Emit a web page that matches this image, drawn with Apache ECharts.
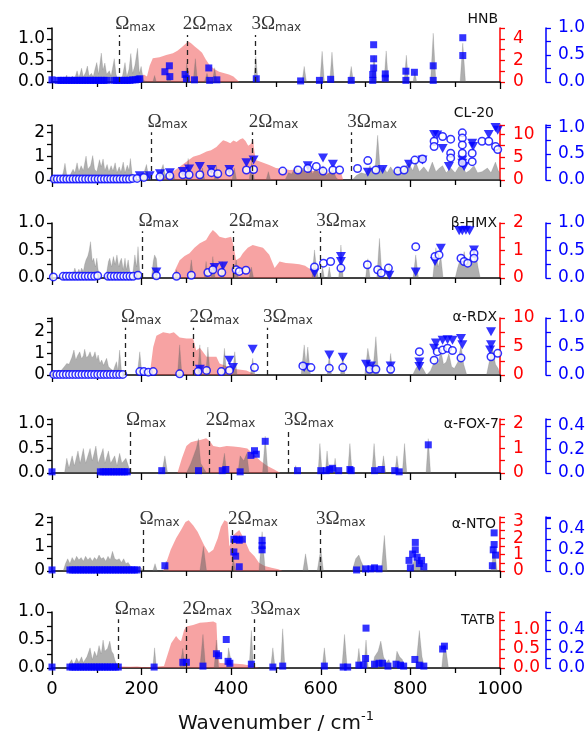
<!DOCTYPE html>
<html><head><meta charset="utf-8">
<script src="https://cdn.jsdelivr.net/npm/echarts@6/dist/echarts.min.js"></script>
<style>html,body{margin:0;padding:0;background:#fff}#c{width:588px;height:738px}</style>
</head><body><div id="c"></div>
<script>
// ---------------- DATA ----------------
const panelNames = ['HNB','CL-20','β-HMX','α-RDX','α-FOX-7','α-NTO','TATB'];
const omegaLines = [[150,301,454],[222,448,668],[202,404,599],[163,316,480],[174,352,527],[204,402,598],[149,300,452]];
const omegaText = ['Ω','2Ω','3Ω'];
const xTickStep = 200;

const hnbGray = [[0,0],[26,0],[30,0.1],[33,0.16],[36,0.04],[42,0.08],[46,0.14],[50,0.06],[56,0.26],[60,0.1],[63,0.2],[66,0.32],[70,0.12],[75,0.22],[79,0.37],[83,0.14],[88,0.2],[92,0.12],[96,0.3],[100,0.45],[104,0.18],[110,0.67],[114,0.28],[118,0.44],[122,0.18],[128,0.26],[132,0.14],[139,0.54],[143,0.18],[147,0.04],[152,0],[157,0.12],[163,0.45],[167,0.12],[172,0.3],[176,0.66],[180,0.2],[185,0.38],[191,0.78],[195,0.2],[199,0.36],[204,0.04],[212,0],[225,0],[229,0.15],[233,0],[256,0],[261,0.22],[266,0],[296,0],[301,0.44],[306,0],[315,0],[320,0.54],[325,0],[340,0],[346,0.2],[352,0],[358,0],[363,0.33],[368,0],[450,0],[455,0.59],[460,0],[558,0],[563,0.36],[568,0],[598,0],[603,0.71],[608,0],[620,0],[625,0.69],[630,0],[663,0],[668,0.36],[673,0],[713,0],[719,0.62],[725,0],[741,0],[746,0.72],[751,0],[786,0],[791,0.62],[796,0],[806,0],[810,0.25],[814,0],[845,0],[851,1.13],[857,0],[911,0],[917,0.9],[923,0],[1000,0]];
const hnbRed = [[188,0],[195,0.3],[205,0.7],[212,0.5],[218,1.5],[225,2.2],[240,2.3],[255,2.5],[270,2.67],[280,2.9],[289,3.2],[297,3.5],[304,3.75],[310,3.6],[318,3.3],[327,3.0],[335,2.7],[343,2.1],[352,1.55],[362,1.2],[373,0.96],[385,0.8],[395,0.7],[405,0.5],[418,0]];
const hnbSq = [[0,0.04],[14,0.03],[20,0.03],[26,0.03],[32,0.03],[38,0.03],[44,0.03],[50,0.03],[56,0.03],[62,0.03],[68,0.03],[74,0.03],[80,0.03],[86,0.03],[92,0.03],[98,0.03],[104,0.03],[110,0.03],[116,0.03],[122,0.03],[138,0.03],[144,0.03],[150,0.03],[156,0.03],[162,0.03],[168,0.03],[174,0.03],[180,0.04],[186,0.04],[192,0.05],[196,0.06],[252,0.19],[262,0.3],[263,0.1],[297,0.14],[300,0.06],[318,0.04],[350,0.26],[352,0.03],[368,0.04],[456,0.06],[555,0.02],[597,0.03],[622,0.05],[668,0.03],[718,0.69],[718,0.43],[718,0.26],[716,0.14],[716,0.03],[744,0.15],[744,0.07],[790,0.2],[790,0.03],[809,0.18],[851,0.3],[851,0.03],[917,0.82],[917,0.49]];

const cl20Gray = [[0,0],[15,0],[20,0.05],[25,0.3],[29,0.7],[33,0.2],[38,0.1],[43,0.3],[47,0.45],[51,0.3],[56,0.72],[60,0.35],[65,0.6],[70,0.4],[76,1.0],[80,0.45],[86,0.6],[91,1.02],[95,0.45],[100,0.35],[106,0.85],[110,0.55],[114,0.88],[118,0.4],[123,0.65],[127,0.35],[132,0.6],[136,0.38],[141,0.72],[145,0.3],[150,0.55],[154,0.32],[159,0.75],[163,0.3],[168,0.62],[172,0.4],[175,0.9],[179,0.25],[184,0.05],[192,0],[200,0.05],[206,0.35],[211,0.65],[215,0.2],[222,0],[236,0],[242,0.35],[248,0.65],[252,0.3],[258,0],[265,0],[270,0.3],[275,0],[298,0],[304,0.9],[309,0],[330,0],[336,0.5],[341,0],[362,0],[367,0.6],[372,0],[402,0],[407,0.5],[412,0],[440,0],[446,0.75],[452,0],[478,0],[483,0.35],[488,0],[520,0],[528,0.3],[535,0.25],[545,0.6],[552,0.3],[560,0.5],[567,0.25],[575,0.55],[582,0.25],[590,0.55],[597,0.2],[605,0.6],[612,0.2],[620,0.3],[627,0.45],[634,0.1],[640,0],[670,0],[680,0.2],[690,0.3],[700,0.25],[710,0.6],[716,0.3],[721,0.4],[727,1.87],[733,0.35],[740,0.55],[748,0.3],[756,0.55],[764,0.3],[772,0.55],[780,0.3],[790,0.6],[797,0.7],[805,0.4],[812,0.75],[820,0.35],[830,0.55],[840,0.3],[849,0.75],[857,0.35],[865,0.5],[872,0.6],[880,0.3],[890,0.5],[900,0.3],[908,0.55],[916,0.6],[924,0.3],[932,0.4],[942,0.6],[950,0.3],[960,0.35],[972,0.5],[980,0.3],[990,0.75],[996,0.4],[1000,0.3]];
const cl20Red = [[240,0],[250,0.5],[265,1.5],[285,2.9],[300,4.0],[315,5.1],[330,5.5],[345,6.2],[355,6.5],[367,7.2],[375,8.0],[382,8.7],[390,8.4],[398,8.0],[405,8.6],[412,8.3],[420,8.9],[426,9.1],[432,8.5],[438,7.5],[443,7.8],[449,8.7],[452,6.0],[456,4.3],[470,3.8],[485,3.3],[500,2.6],[520,2.4],[530,2.2],[552,2.3],[570,1.9],[590,2.0],[604,1.7],[620,1.6],[635,1.5],[646,1.4],[650,0]];
const cl20Tri = [[196,0.08],[218,0.08],[241,0.12],[263,0.14],[292,0.16],[306,0.21],[330,0.26],[356,0.2],[396,0.2],[434,0.33],[450,0.38],[571,0.27],[605,0.42],[627,0.3],[705,0.15],[738,0.2],[797,0.3],[827,0.38],[853,0.87],[860,0.86],[872,0.6],[886,0.26],[916,0.38],[916,0.32],[920,0.26],[938,0.7],[940,0.64],[975,0.87],[990,1.0],[995,0.95]];
const cl20Circ = [[5,0.02],[12,0.02],[19,0.02],[26,0.02],[33,0.02],[40,0.02],[47,0.02],[54,0.02],[61,0.02],[68,0.02],[75,0.02],[82,0.02],[89,0.02],[96,0.02],[103,0.02],[110,0.02],[117,0.02],[124,0.02],[131,0.02],[138,0.02],[145,0.02],[152,0.02],[159,0.02],[166,0.02],[173,0.02],[180,0.03],[190,0.03],[205,0.05],[241,0.06],[263,0.08],[292,0.1],[306,0.1],[330,0.1],[356,0.14],[370,0.12],[396,0.15],[434,0.19],[450,0.2],[515,0.17],[549,0.19],[571,0.22],[590,0.26],[605,0.17],[627,0.19],[642,0.19],[682,0.22],[705,0.37],[723,0.19],[772,0.17],[786,0.19],[810,0.38],[827,0.4],[853,0.74],[853,0.64],[872,0.83],[890,0.78],[890,0.51],[890,0.42],[916,0.9],[916,0.8],[916,0.67],[916,0.51],[916,0.33],[938,0.51],[938,0.35],[960,0.74],[975,0.74],[990,0.64],[995,0.58]];

const hmxGray = [[0,0],[45,0],[48,0.1],[51,0.18],[55,0.08],[60,0.16],[63,0.1],[66,0.18],[70,0.12],[73,0.25],[76,0.33],[80,0.4],[83,0.5],[86,0.66],[90,0.3],[93,0.36],[97,0.2],[100,0.36],[103,0.15],[108,0],[118,0],[122,0.1],[126,0.3],[129,0.36],[133,0.2],[137,0.39],[141,0.25],[145,0.42],[149,0.2],[152,0.3],[155,0.36],[159,0.15],[163,0.36],[166,0.15],[170,0.33],[174,0.1],[180,0.05],[185,0.42],[189,0.2],[192,0.57],[196,0.1],[200,0],[222,0],[226,0.3],[229,0.42],[233,0.35],[237,0],[274,0],[278,0.15],[282,0],[306,0],[311,0.33],[316,0],[340,0],[344,0.3],[348,0],[355,0],[359,0.39],[364,0],[376,0],[380,0.3],[384,0],[406,0],[411,0.33],[416,0],[440,0],[445,0.2],[450,0],[580,0],[586,0.51],[590,0.2],[595,0],[600,0],[604,0.2],[608,0],[615,0],[619,0.2],[623,0],[640,0],[645,0.6],[650,0],[700,0],[705,0.35],[710,0],[725,0],[731,0.72],[737,0],[748,0],[753,0.26],[758,0],[806,0],[812,0.42],[818,0],[850,0],[857,0.55],[862,0.2],[868,0.39],[873,0],[900,0],[906,0.2],[912,0.36],[916,0.25],[920,0.48],[925,0.25],[930,0.3],[935,0.39],[940,0.25],[946,0.45],[951,0.2],[956,0],[1000,0]];
const hmxRed = [[270,0],[275,0.3],[285,0.65],[296,0.8],[307,0.9],[318,1.1],[330,1.26],[344,1.38],[352,1.6],[359,1.75],[366,1.65],[374,1.5],[387,1.45],[400,1.5],[405,1.2],[411,0.65],[420,0.75],[426,0.9],[437,1.1],[448,1.2],[460,1.15],[471,1.1],[485,0.85],[497,0.36],[508,0.6],[522,0.55],[537,0.53],[552,0.5],[565,0.45],[574,0.35],[585,0.2],[592,0]];
const hmxTri = [[233,0.11],[363,0.19],[382,0.22],[586,0.09],[645,0.39],[645,0.3],[753,0.05],[812,0.11],[855,0.3],[868,0.54],[909,0.86],[916,0.86],[924,0.87],[932,0.86],[942,0.51]];
const hmxCirc = [[3,0.02],[25,0.03],[32,0.03],[39,0.03],[46,0.03],[53,0.03],[60,0.03],[67,0.03],[74,0.03],[81,0.03],[88,0.03],[95,0.03],[102,0.04],[125,0.03],[132,0.03],[139,0.03],[146,0.03],[153,0.03],[160,0.03],[167,0.03],[174,0.03],[181,0.03],[192,0.05],[233,0.04],[278,0.03],[311,0.05],[348,0.1],[359,0.15],[379,0.1],[411,0.15],[418,0.12],[433,0.14],[586,0.2],[606,0.27],[622,0.3],[645,0.18],[704,0.24],[727,0.15],[735,0.09],[751,0.18],[812,0.57],[855,0.39],[864,0.42],[913,0.36],[920,0.3],[928,0.27],[942,0.45],[942,0.36]];

const rdxGray = [[0,0],[8,0],[14,0.23],[20,0.2],[26,0.35],[33,0.54],[38,0.5],[44,0.8],[49,1.16],[53,0.7],[57,0.9],[62,1.08],[66,0.75],[70,0.9],[73,1.2],[77,0.8],[81,0.9],[85,1.08],[89,0.8],[93,0.9],[96,1.08],[100,0.7],[103,0.93],[107,0.55],[111,0.7],[115,0.45],[118,0.6],[122,0.78],[126,0.4],[130,0.3],[133,0.39],[137,0.2],[140,0.4],[144,0.62],[147,0.2],[151,1.16],[155,0.2],[160,0],[190,0],[196,1.08],[201,0],[280,0],[285,1.4],[290,0],[325,0],[330,1.4],[335,0],[343,0],[348,1.3],[353,0],[380,0],[385,1.24],[390,0],[403,0],[408,1.08],[413,0],[443,0],[448,0.78],[453,0],[556,0],[563,1.4],[567,0.5],[571,1.3],[577,0],[614,0],[619,0.93],[624,0],[644,0],[649,0.93],[654,0],[698,0],[705,1.24],[712,0.4],[718,0.6],[723,1.78],[729,0],[751,0],[756,1.0],[761,0],[805,0],[812,0.3],[820,0.54],[828,0.3],[836,0],[845,0.2],[851,0.5],[857,0.7],[862,0.5],[868,1.16],[874,0.5],[880,0.6],[886,1.0],[892,0.4],[898,0.3],[906,0.6],[913,1.4],[919,0.5],[926,0],[970,0],[976,0.6],[983,1.3],[990,0.5],[996,0.3],[1000,0]];
const rdxRed = [[218,0],[226,4.9],[233,6.9],[248,7.5],[263,7.3],[272,7.5],[285,6.6],[300,6.4],[315,6.4],[322,4.3],[330,4.8],[345,3.2],[367,3.2],[374,2.0],[404,1.1],[434,0.8],[456,0]];
const rdxTri = [[330,0.1],[396,0.26],[404,0.13],[448,0.45],[563,0.13],[619,0.35],[649,0.31],[701,0.19],[712,0.16],[756,0.16],[820,0.23],[820,0.15],[853,0.47],[857,0.56],[872,0.61],[883,0.62],[894,0.61],[913,0.64],[916,0.53],[980,0.76],[980,0.53],[978,0.44]];
const rdxCirc = [[4,0.01],[11,0.01],[18,0.01],[25,0.01],[32,0.01],[39,0.01],[46,0.01],[53,0.01],[60,0.01],[67,0.01],[74,0.01],[81,0.01],[88,0.01],[95,0.01],[102,0.01],[109,0.01],[116,0.01],[123,0.01],[130,0.01],[137,0.01],[144,0.01],[151,0.01],[158,0.01],[196,0.06],[205,0.06],[215,0.05],[226,0.06],[285,0.02],[326,0.06],[345,0.08],[378,0.06],[396,0.08],[452,0.13],[560,0.16],[578,0.13],[619,0.12],[649,0.13],[709,0.1],[723,0.1],[756,0.1],[820,0.41],[853,0.26],[860,0.41],[872,0.44],[883,0.47],[894,0.43],[913,0.3],[980,0.32],[995,0.38]];

const foxGray = [[0,0],[28,0],[33,0.3],[38,0.1],[45,0.35],[50,0.15],[58,0.45],[63,0.2],[70,0.5],[75,0.2],[85,0.5],[90,0.25],[98,0.55],[103,0.2],[114,0.5],[118,0.2],[126,0.45],[131,0.2],[140,0.35],[145,0.15],[151,0.4],[156,0.2],[165,0.3],[172,0.1],[178,0],[245,0],[252,0.35],[258,0],[300,0],[310,0.2],[322,0.5],[327,0.7],[332,0.2],[345,0],[378,0],[385,0.4],[390,0],[415,0],[420,0.35],[428,0.25],[435,0.4],[440,0],[470,0],[476,0.75],[482,0],[540,0],[544,0.15],[548,0],[594,0],[598,0.6],[603,0],[610,0],[614,0.45],[619,0],[628,0],[632,0.3],[636,0],[660,0],[665,0.6],[670,0],[714,0],[719,0.6],[724,0],[735,0],[740,0.35],[745,0],[765,0],[770,0.35],[775,0],[782,0],[787,0.6],[792,0],[835,0],[840,0.7],[845,0],[1000,0]];
const foxRed = [[280,0],[290,0.6],[300,1.1],[310,1.25],[320,1.3],[333,1.35],[344,1.42],[352,1.3],[360,1.1],[375,1.05],[390,1.1],[405,1.08],[420,1.05],[436,1.0],[450,0.75],[465,0.5],[480,0.3],[495,0.15],[510,0]];
const foxSq = [[0,0.01],[108,0.01],[114,0.01],[120,0.01],[126,0.01],[132,0.01],[138,0.01],[144,0.01],[150,0.01],[156,0.01],[162,0.01],[168,0.01],[245,0.02],[327,0.02],[380,0.02],[388,0.03],[420,0.01],[444,0.15],[452,0.19],[456,0.16],[476,0.27],[548,0.02],[600,0.02],[612,0.02],[620,0.03],[626,0.04],[640,0.02],[665,0.03],[668,0.02],[720,0.02],[735,0.03],[765,0.02],[775,0.01],[840,0.24]];

const ntoGray = [[0,0],[25,0],[30,0.3],[35,0.5],[40,0.3],[45,0.55],[50,0.4],[55,0.6],[60,0.45],[65,0.55],[70,0.4],[75,0.6],[80,0.45],[85,0.55],[90,0.4],[95,0.55],[100,0.45],[105,0.65],[110,0.5],[115,0.55],[120,0.4],[125,0.6],[130,0.45],[135,0.8],[140,0.5],[145,0.45],[150,0.5],[155,0.35],[160,0.5],[165,0.3],[170,0.35],[175,0.2],[180,0.1],[188,0.05],[195,0.2],[200,0.1],[205,0],[225,0],[230,0.3],[235,0],[250,0],[255,0.4],[260,0],[330,0],[338,1.0],[345,0],[400,0],[405,0.5],[410,0],[462,0],[469,1.6],[476,0],[560,0],[566,0.7],[572,0],[592,0],[600,0.9],[606,0],[670,0],[678,0.5],[685,0.65],[690,0.4],[695,0.2],[700,0],[735,0],[742,1.45],[748,0],[800,0],[810,0.5],[820,0.4],[828,0],[980,0],[987,1.0],[994,0],[1000,0]];
const ntoRed = [[248,0],[255,0.5],[265,1.3],[277,2.0],[288,2.5],[298,3.0],[305,3.1],[315,2.8],[325,2.4],[339,1.6],[350,1.1],[360,1.3],[370,2.0],[377,2.7],[385,3.1],[392,3.0],[396,1.5],[405,2.2],[418,2.5],[430,1.9],[441,1.2],[452,0.9],[462,0.5],[475,0.3],[490,0.2],[505,0.1],[515,0]];
const ntoSq = [[0,0.01],[40,0.01],[46,0.01],[52,0.01],[58,0.01],[64,0.01],[70,0.01],[76,0.01],[82,0.01],[88,0.01],[94,0.01],[100,0.01],[106,0.01],[112,0.01],[118,0.01],[124,0.01],[130,0.01],[136,0.01],[142,0.01],[148,0.01],[154,0.01],[160,0.01],[166,0.01],[172,0.01],[178,0.01],[184,0.01],[190,0.01],[252,0.05],[406,0.3],[412,0.3],[418,0.29],[425,0.3],[406,0.18],[410,0.14],[418,0.04],[469,0.29],[469,0.24],[469,0.2],[680,0.01],[700,0.02],[712,0.02],[720,0.03],[730,0.02],[797,0.1],[805,0.16],[811,0.27],[811,0.2],[815,0.13],[820,0.07],[825,0.1],[800,0.03],[830,0.04],[987,0.36],[987,0.25],[985,0.2],[990,0.15],[983,0.05]];

const tatbGray = [[0,0],[35,0],[40,0.1],[44,0.15],[48,0.05],[55,0.18],[60,0.1],[66,0.2],[70,0.1],[78,0.2],[85,0.36],[90,0.15],[95,0.3],[100,0.2],[105,0.4],[110,0.25],[114,0.5],[118,0.3],[124,0.35],[129,0.48],[133,0.3],[137,0.25],[140,0.15],[145,0.05],[150,0],[225,0],[229,0.36],[233,0],[285,0],[292,0.35],[297,0],[330,0],[337,0.6],[343,0],[362,0],[367,0.5],[372,0],[390,0],[394,0.36],[398,0.2],[402,0],[440,0],[445,0.67],[450,0],[488,0],[493,0.36],[498,0],[510,0],[515,0.7],[520,0],[603,0],[608,0.36],[613,0],[647,0],[653,0.6],[659,0],[680,0],[685,0.35],[690,0],[696,0],[701,0.5],[706,0],[715,0],[720,0.2],[728,0.3],[734,0.48],[740,0.2],[746,0.1],[752,0.15],[758,0],[765,0],[770,0.3],[776,0.2],[782,0.15],[788,0],[812,0],[820,0.67],[826,0.2],[832,0],[870,0],[875,0.42],[880,0.3],[885,0],[1000,0]];
const tatbRed = [[150,0],[155,0.04],[175,0.03],[190,0.04],[205,0.02],[230,0.03],[250,0.05],[259,0.39],[266,0.65],[277,0.84],[283,0.75],[288,0.7],[295,1.0],[300,1.09],[315,1.13],[330,1.19],[345,1.2],[360,1.22],[367,1.18],[370,0.4],[374,0.13],[404,0.12],[426,0.1],[445,0.06],[463,0]];
const tatbSq = [[0,0.01],[40,0.01],[46,0.01],[52,0.01],[58,0.01],[64,0.01],[70,0.01],[76,0.01],[82,0.01],[88,0.01],[94,0.01],[100,0.01],[106,0.01],[112,0.01],[118,0.01],[124,0.01],[130,0.01],[136,0.01],[142,0.01],[148,0.01],[228,0.01],[292,0.06],[300,0.06],[337,0.02],[367,0.15],[372,0.13],[389,0.3],[393,0.07],[397,0.05],[445,0.04],[493,0.01],[515,0.02],[608,0.02],[650,0.01],[660,0.01],[685,0.03],[701,0.42],[700,0.1],[695,0.03],[720,0.04],[730,0.05],[738,0.05],[750,0.02],[768,0.04],[778,0.03],[785,0.02],[810,0.09],[820,0.03],[830,0.02],[872,0.2],[876,0.23]];

// ---------------- LAYOUT / STYLE ----------------
// axis cfg: [max, tickStep, labelStep, decimals]
const layout = [
  {bottom:82,  h:54, left:[1.25,0.25,0.5,1], red:[5,1,2,0],        blue:[1,0.25,0.5,1],    lineTop:1.09, nameY:19,  nameRight:498},
  {bottom:180, h:55, left:[2.3,0.5,1,0],     red:[12,2.5,5,0],     blue:[1.05,0.25,0.5,1], lineTop:2.0,  nameY:113, nameRight:494},
  {bottom:278, h:55, left:[1.0,0.25,0.5,1],  red:[2,0.5,1,0],      blue:[1,0.25,0.5,1],    lineTop:0.85, nameY:223, nameRight:497},
  {bottom:375, h:57, left:[2.65,0.5,1,0],    red:[10,2.5,5,0],     blue:[1,0.25,0.5,1],    lineTop:2.2,  nameY:317, nameRight:497},
  {bottom:473, h:54, left:[1.1,0.25,0.5,1],  red:[2.2,0.5,1,0],    blue:[0.46,0.1,0.2,1],  lineTop:0.86, nameY:424, nameRight:499},
  {bottom:571, h:54, left:[2.2,0.5,1,0],     red:[3.3,0.5,1,0],    blue:[0.51,0.1,0.2,1],  lineTop:1.67, nameY:524, nameRight:496},
  {bottom:668, h:56, left:[1.0,0.25,0.5,1],  red:[1.47,0.25,0.5,1],blue:[0.59,0.1,0.2,1],  lineTop:0.87, nameY:620, nameRight:495}
];
const panelData = [
  {gray:hnbGray,  red:hnbRed,  marks:[['sq',hnbSq]]},
  {gray:cl20Gray, red:cl20Red, marks:[['tri',cl20Tri],['circ',cl20Circ]]},
  {gray:hmxGray,  red:hmxRed,  marks:[['tri',hmxTri],['circ',hmxCirc]]},
  {gray:rdxGray,  red:rdxRed,  marks:[['tri',rdxTri],['circ',rdxCirc]]},
  {gray:foxGray,  red:foxRed,  marks:[['sq',foxSq]]},
  {gray:ntoGray,  red:ntoRed,  marks:[['sq',ntoSq]]},
  {gray:tatbGray, red:tatbRed, marks:[['sq',tatbSq]]}
];
const FONT = 'DejaVu Sans';
const RED = '#ff0000', BLUE = '#0000ff';
const markerStyle = {
  sq:   {symbol:'rect', symbolSize:7, itemStyle:{color:BLUE}},
  tri:  {symbol:'triangle', symbolSize:[10,9], symbolRotate:180, itemStyle:{color:BLUE}},
  circ: {symbol:'circle', symbolSize:7.5, itemStyle:{color:'#ffffff', borderColor:BLUE, borderWidth:1.5}}
};

function fmt(step, dec){
  return function(v){ const r = v/step; return Math.abs(r-Math.round(r))<1e-6 ? v.toFixed(dec) : ''; };
}
function mkY(i, pos, offset, color, cfg){
  const [max, step, lstep, dec] = cfg;
  return {gridIndex:i, type:'value', position:pos, offset:offset, min:0, max:max, interval:step,
    axisLine:{show:true, onZero:false, lineStyle:{color:color, width:1.5}},
    axisTick:{show:true, length:5, lineStyle:{color:color, width:1.3}},
    splitLine:{show:false},
    axisLabel:{color:color, fontSize:17, fontFamily:FONT, margin: pos==='left'?7:(offset?12:13), formatter:fmt(lstep,dec)}};
}

const grids=[], xAxes=[], yAxes=[], series=[], graphics=[];
layout.forEach((L,i)=>{
  grids.push({left:52, width:448, top:L.bottom-L.h, height:L.h});
  xAxes.push({gridIndex:i, type:'value', min:0, max:1000, interval:xTickStep,
    axisLine:{onZero:false, lineStyle:{color:'#000', width:1.5}},
    axisTick:{length:7, lineStyle:{color:'#000', width:1.3}},
    minorTick:{show:true, splitNumber:2, length:5, lineStyle:{color:'#000', width:1.3}},
    splitLine:{show:false}, minorSplitLine:{show:false},
    axisLabel:{show:i===layout.length-1, fontSize:18, fontFamily:FONT, color:'#000', margin:12, formatter:function(v){return String(v);}}});
  yAxes.push(mkY(i,'left',0,'#000',L.left));
  yAxes.push(mkY(i,'right',0,RED,L.red));
  yAxes.push(mkY(i,'right',46,BLUE,L.blue));
  const P = panelData[i];
  series.push({type:'line', xAxisIndex:i, yAxisIndex:3*i+1, data:P.red, symbol:'none', silent:true, z:1,
    lineStyle:{width:0}, areaStyle:{color:'rgba(240,72,72,0.5)', opacity:1}});
  series.push({type:'line', xAxisIndex:i, yAxisIndex:3*i, data:P.gray, symbol:'none', silent:true, z:2,
    lineStyle:{width:0.5, color:'rgba(110,110,110,0.4)'}, areaStyle:{color:'rgba(95,95,95,0.5)', opacity:1}});
  P.marks.forEach(([kind, arr])=>{
    series.push(Object.assign({type:'scatter', xAxisIndex:i, yAxisIndex:3*i+2, data:arr, z:4, silent:true, clip:false}, markerStyle[kind]));
  });
  series.push({type:'scatter', xAxisIndex:i, yAxisIndex:3*i, symbolSize:0.1, z:5, silent:true,
    itemStyle:{color:'rgba(0,0,0,0)'},
    data: omegaLines[i].map((x,k)=>({value:[x, L.lineTop], label:{formatter:'{a|'+omegaText[k]+'}{b|max}'}})),
    label:{show:true, position:'top', distance:1, align:'left', offset:[-4,0],
      rich:{a:{fontFamily:'Liberation Serif', fontSize:19, color:'#000', lineHeight:22, verticalAlign:'bottom'},
            b:{fontFamily:FONT, fontSize:12, color:'#000', lineHeight:12, verticalAlign:'bottom'}}},
    markLine:{silent:true, symbol:'none', animation:false, label:{show:false},
      lineStyle:{type:[5,4], color:'#222', width:1.3},
      data: omegaLines[i].map(x=>[{coord:[x,0]},{coord:[x,L.lineTop]}])}
  });
  graphics.push({type:'text', x:L.nameRight, y:L.nameY,
    style:{text:panelNames[i], font:'14px "DejaVu Sans"', fill:'#111', align:'right', verticalAlign:'middle'}});
});
graphics.push({type:'text', x:276, y:722,
  style:{text:'{a|Wavenumber / cm}{b|-1}', align:'center', verticalAlign:'middle',
    rich:{a:{fontFamily:FONT, fontSize:20, fill:'#111', lineHeight:24, verticalAlign:'bottom'},
          b:{fontFamily:FONT, fontSize:13, fill:'#111', lineHeight:14, verticalAlign:'top'}}}});

const chart = echarts.init(document.getElementById('c'));
chart.setOption({animation:false, backgroundColor:'#fff', grid:grids, xAxis:xAxes, yAxis:yAxes, series:series, graphic:graphics});
</script>
</body></html>
